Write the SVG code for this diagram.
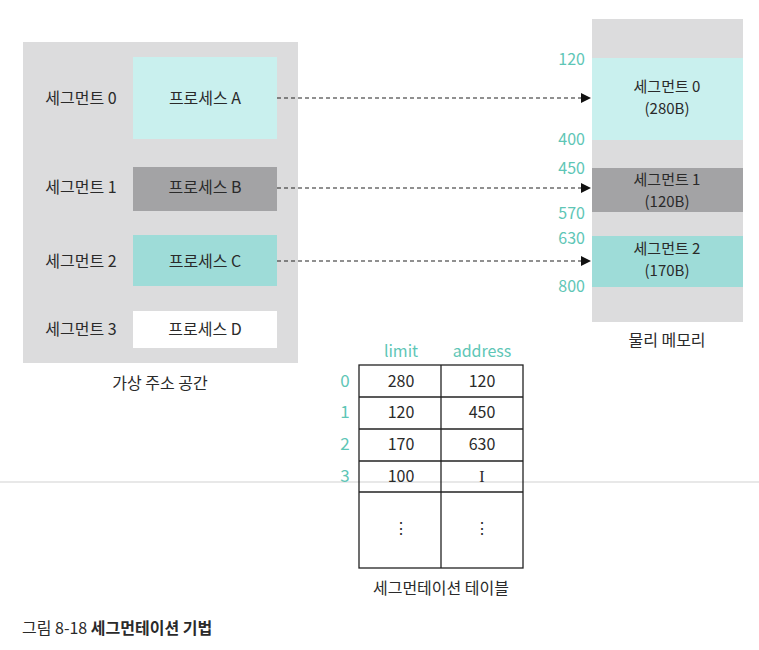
<svg xmlns="http://www.w3.org/2000/svg" width="759" height="650" viewBox="0 0 759 650">
<style>
text{font-family:"Noto Sans CJK KR","Noto Sans",sans-serif;font-size:16px;fill:#2a2a2a}
.c{text-anchor:middle}
.r{text-anchor:end}
.t{fill:#5ec6b6}
.m{font-size:15px}
.bg{fill:#dcdcdd}
.lc{fill:#c9f0ee}
.dg{fill:#a3a3a5}
.tc{fill:#9edcd8}
.cell{fill:none;stroke:#222;stroke-width:1.3}
.conn{stroke:#222;stroke-width:1.2;stroke-dasharray:4 3;fill:none}
</style>
<defs>
<marker id="ah" viewBox="0 0 10 10" refX="10" refY="5" markerWidth="10" markerHeight="10" markerUnits="userSpaceOnUse" orient="auto">
<path d="M0,0 L10,5 L0,10 z" fill="#111"/>
</marker>
</defs>
<rect width="759" height="650" fill="#fff"/>
<line x1="0" y1="482" x2="759" y2="482" stroke="#e8e8e8" stroke-width="2"/>

<g id="virtual-space">
<rect class="bg" x="23" y="42" width="275" height="321"/>
<text class="c" x="81" y="104">세그먼트 0</text>
<text class="c" x="81" y="193">세그먼트 1</text>
<text class="c" x="81" y="267">세그먼트 2</text>
<text class="c" x="81" y="335">세그먼트 3</text>
<text class="c" x="160" y="389">가상 주소 공간</text>
</g>
<g id="proc-a"><rect class="lc" x="133" y="57" width="144" height="82"/><text class="c" x="205" y="104">프로세스 A</text></g>
<g id="proc-b"><rect class="dg" x="133" y="167" width="144" height="44"/><text class="c" x="205" y="193">프로세스 B</text></g>
<g id="proc-c"><rect class="tc" x="133" y="235" width="144" height="51"/><text class="c" x="205" y="267">프로세스 C</text></g>
<g id="proc-d"><rect fill="#fff" x="133" y="311" width="144" height="37"/><text class="c" x="205" y="335">프로세스 D</text></g>

<g id="physical-memory">
<rect class="bg" x="592" y="19" width="151" height="303"/>
<text class="r t" x="585" y="65">120</text>
<text class="r t" x="585" y="145">400</text>
<text class="r t" x="585" y="174">450</text>
<text class="r t" x="585" y="219">570</text>
<text class="r t" x="585" y="244">630</text>
<text class="r t" x="585" y="292">800</text>
<text class="c" x="667" y="346">물리 메모리</text>
</g>
<g id="mem-seg0"><rect class="lc" x="592" y="58" width="151" height="82"/><text class="c m" x="667" y="92">세그먼트 0</text><text class="c m" x="667" y="114">(280B)</text></g>
<g id="mem-seg1"><rect class="dg" x="592" y="168" width="151" height="44"/><text class="c m" x="667" y="185">세그먼트 1</text><text class="c m" x="667" y="207">(120B)</text></g>
<g id="mem-seg2"><rect class="tc" x="592" y="236" width="151" height="51"/><text class="c m" x="667" y="254">세그먼트 2</text><text class="c m" x="667" y="276">(170B)</text></g>

<g id="connectors">
<line class="conn" x1="277" y1="98" x2="591" y2="98" marker-end="url(#ah)"/>
<line class="conn" x1="277" y1="188" x2="591" y2="188" marker-end="url(#ah)"/>
<line class="conn" x1="277" y1="261" x2="591" y2="261" marker-end="url(#ah)"/>
</g>

<g id="segment-table">
<text class="c t" x="401" y="357">limit</text>
<text class="c t" x="482" y="357">address</text>
<rect class="cell" x="359" y="365" width="164" height="203"/>
<line class="cell" x1="441" y1="365" x2="441" y2="568"/>
<line class="cell" x1="359" y1="397" x2="523" y2="397"/>
<line class="cell" x1="359" y1="429" x2="523" y2="429"/>
<line class="cell" x1="359" y1="461" x2="523" y2="461"/>
<line class="cell" x1="359" y1="492" x2="523" y2="492"/>
<text class="c t" x="345" y="387" style="font-size:17px">0</text>
<text class="c t" x="345" y="418" style="font-size:17px">1</text>
<text class="c t" x="345" y="450" style="font-size:17px">2</text>
<text class="c t" x="345" y="482" style="font-size:17px">3</text>
<text class="c" x="401" y="387">280</text><text class="c" x="482" y="387">120</text>
<text class="c" x="401" y="418">120</text><text class="c" x="482" y="418">450</text>
<text class="c" x="401" y="450">170</text><text class="c" x="482" y="450">630</text>
<text class="c" x="401" y="482">100</text><text class="c" x="482" y="482" style="font-family:'Liberation Serif',serif">I</text>
<text class="c" x="401" y="534">⋮</text><text class="c" x="482" y="534">⋮</text>
<text class="c" x="441" y="594">세그먼테이션 테이블</text>
</g>

<g id="caption">
<text x="22" y="634" style="font-size:16px">그림 8-18 <tspan font-weight="bold">세그먼테이션 기법</tspan></text>
</g>
</svg>
